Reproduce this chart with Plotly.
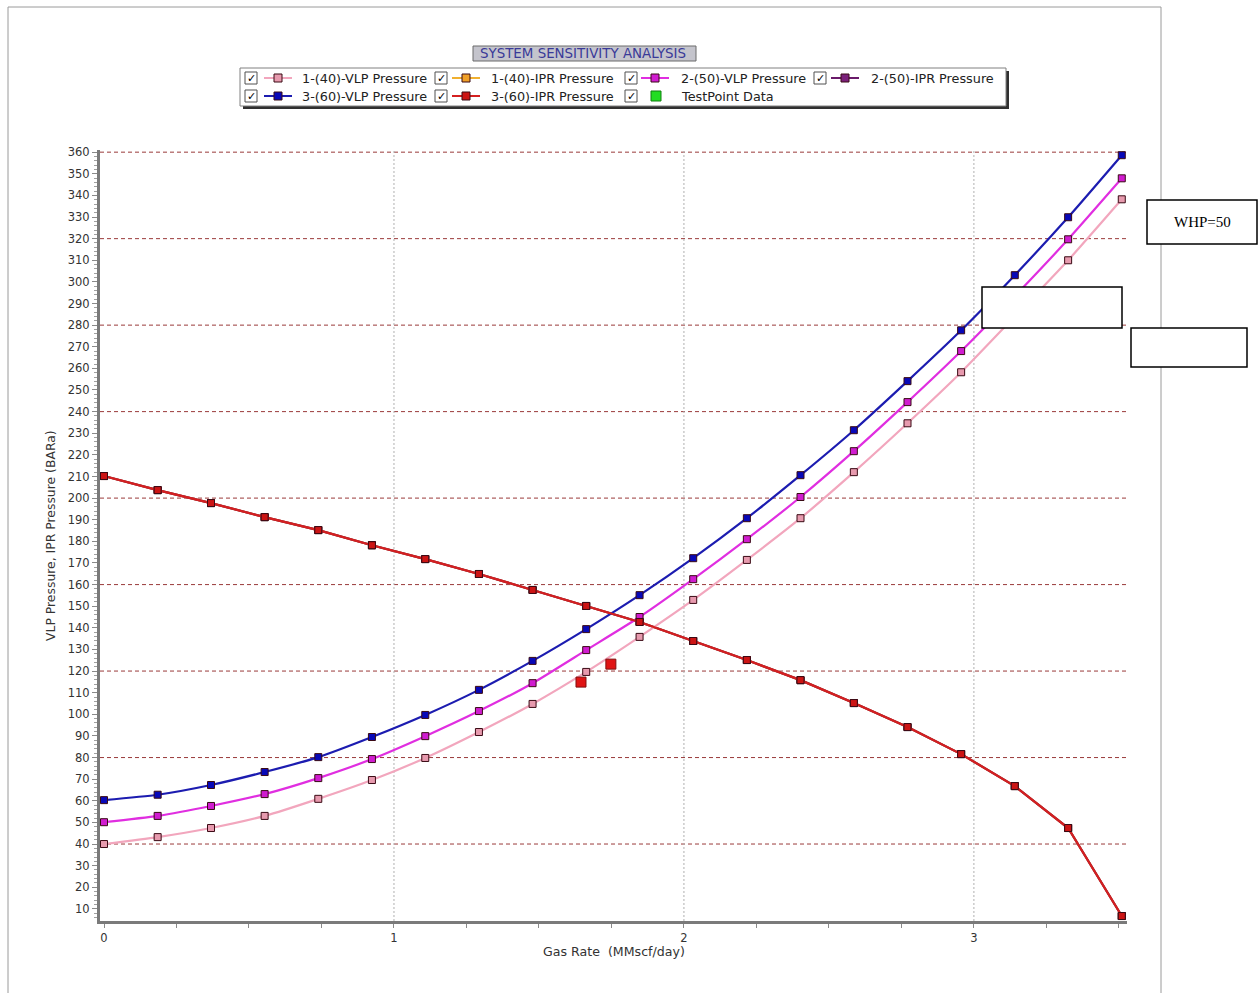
import plotly.graph_objects as go

# ---------------- data ----------------
gas_rate = [0.0, 0.185, 0.369, 0.554, 0.739, 0.924, 1.108, 1.293, 1.478, 1.663,
            1.847, 2.032, 2.217, 2.402, 2.586, 2.771, 2.956, 3.141, 3.325, 3.51]

vlp_40 = [40.0, 43.2, 47.4, 53.0, 60.9, 69.6, 79.8, 91.8, 104.8, 119.6,
          135.8, 152.9, 171.4, 190.7, 212.0, 234.6, 258.2, 284.0, 310.0, 338.2]
vlp_50 = [50.1, 53.0, 57.6, 63.1, 70.5, 79.3, 89.9, 101.5, 114.4, 129.7,
          145.0, 162.5, 181.0, 200.5, 221.7, 244.4, 268.0, 293.4, 319.7, 347.9]
vlp_60 = [60.3, 62.8, 67.3, 73.3, 80.2, 89.5, 99.7, 111.3, 124.7, 139.4,
          155.1, 172.2, 190.7, 210.6, 231.4, 254.1, 277.6, 303.1, 329.9, 358.6]
ipr = [210.2, 203.7, 197.7, 191.2, 185.2, 178.2, 171.8, 164.9, 157.5, 150.1,
       142.7, 133.9, 125.1, 115.8, 105.2, 94.1, 81.6, 66.8, 47.4, 6.7]

test_rate = [1.645, 1.748]
test_pressure = [114.9, 123.2]

x_ticks = [0, 1, 2, 3]
y_grid = [40, 80, 120, 160, 200, 240, 280, 320, 360]
x_grid = [1, 2, 3]

legend_names = ["1-(40)-VLP Pressure", "1-(40)-IPR Pressure", "2-(50)-VLP Pressure",
                "2-(50)-IPR Pressure", "3-(60)-VLP Pressure", "3-(60)-IPR Pressure",
                "TestPoint Data"]

# ---------------- styles ----------------
W, H = 1258, 993
L, R, T, B = 100, 1127, 150, 921
FONT = "DejaVu Sans"

C_PINK = ("#f2a6bd", "#e79aae")
C_ORANGE = ("#f0b030", "#f0a028")
C_MAG = ("#e02ee0", "#d01cd0")
C_PURPLE = ("#6a1a6a", "#7a207a")
C_BLUE = ("#1c1cb0", "#0808b8")
C_RED = ("#d42020", "#cc1414")
C_GREEN = ("#22cc22", "#22dd22")


def px(xp):
    return (xp - L) / (R - L)


def py(yp):
    return (B - yp) / (B - T)


fig = go.Figure()


def add_curve(y, colors, shape="spline"):
    fig.add_trace(go.Scatter(
        x=gas_rate, y=y, mode="lines+markers",
        line=dict(color=colors[0], width=2.2, shape=shape, smoothing=0.6),
        marker=dict(symbol="square", size=7, color=colors[1],
                    line=dict(color="#3a0a14", width=1)),
        showlegend=False, hoverinfo="x+y"))


add_curve(ipr, C_ORANGE, "linear")
add_curve(ipr, C_PURPLE, "linear")
add_curve(vlp_40, C_PINK)
add_curve(vlp_50, C_MAG)
add_curve(vlp_60, C_BLUE)
add_curve(ipr, C_RED, "linear")

fig.add_trace(go.Scatter(
    x=test_rate, y=test_pressure, mode="markers",
    marker=dict(symbol="square", size=10, color="#e01414",
                line=dict(color="#801010", width=1)),
    showlegend=False))

shapes = []
annotations = []

# grid lines
for g in y_grid:
    shapes.append(dict(type="line", xref="paper", yref="y", x0=0, x1=1, y0=g, y1=g,
                       line=dict(color="#9a3a3a", width=1, dash="4px,3px"), layer="below"))
for g in x_grid:
    shapes.append(dict(type="line", xref="x", yref="paper", x0=g, x1=g, y0=0, y1=1,
                       line=dict(color="#b0b0b0", width=1, dash="2px,2px"), layer="below"))

# outer frame
shapes.append(dict(type="rect", xref="paper", yref="paper",
                   x0=px(8), x1=px(1161), y0=py(7), y1=py(1010),
                   line=dict(color="#9a9a9a", width=1), layer="below"))

# title box
shapes.append(dict(type="rect", xref="paper", yref="paper",
                   x0=px(473), x1=px(696), y0=py(46), y1=py(61),
                   fillcolor="#c4c4cc", line=dict(color="#6a6a6a", width=1)))
annotations.append(dict(xref="paper", yref="paper", x=px(583), y=py(53.5),
                        text="SYSTEM SENSITIVITY ANALYSIS", showarrow=False,
                        font=dict(family=FONT, size=13.4, color="#3a3a98"),
                        xanchor="center", yanchor="middle"))

# legend box + shadow
shapes.append(dict(type="rect", xref="paper", yref="paper",
                   x0=px(243), x1=px(1009), y0=py(71), y1=py(109),
                   fillcolor="#303030", line=dict(width=0)))
shapes.append(dict(type="rect", xref="paper", yref="paper",
                   x0=px(240), x1=px(1006), y0=py(68), y1=py(106),
                   fillcolor="white", line=dict(color="#808080", width=1)))

legend_layout = [
    (251, 278, 300, 78, C_PINK, True),
    (441, 466, 489, 78, C_ORANGE, True),
    (631, 655, 679, 78, C_MAG, True),
    (820, 845, 869, 78, C_PURPLE, True),
    (251, 278, 300, 96, C_BLUE, True),
    (441, 466, 489, 96, C_RED, True),
    (631, 656, 679, 96, C_GREEN, False),
]
for name, (cb, sym, tx, cy, col, has_line) in zip(legend_names, legend_layout):
    shapes.append(dict(type="rect", xref="paper", yref="paper",
                       x0=px(cb - 6), x1=px(cb + 6), y0=py(cy - 6), y1=py(cy + 6),
                       fillcolor="white", line=dict(color="#505050", width=1)))
    annotations.append(dict(xref="paper", yref="paper", x=px(cb), y=py(cy),
                            text="<b>✓</b>", showarrow=False,
                            font=dict(family=FONT, size=11, color="black"),
                            xanchor="center", yanchor="middle"))
    if has_line:
        shapes.append(dict(type="line", xref="paper", yref="paper",
                           x0=px(sym - 14), x1=px(sym + 14), y0=py(cy), y1=py(cy),
                           line=dict(color=col[0], width=2)))
        shapes.append(dict(type="rect", xref="paper", yref="paper",
                           x0=px(sym - 4), x1=px(sym + 4), y0=py(cy - 4), y1=py(cy + 4),
                           fillcolor=col[1], line=dict(color="#3a0a14", width=1)))
    else:
        shapes.append(dict(type="rect", xref="paper", yref="paper",
                           x0=px(sym - 5), x1=px(sym + 5), y0=py(cy - 5), y1=py(cy + 5),
                           fillcolor=col[1], line=dict(color="#108010", width=1)))
    annotations.append(dict(xref="paper", yref="paper", x=px(tx), y=py(cy),
                            text=name, showarrow=False,
                            font=dict(family=FONT, size=12.8, color="#222222"),
                            xanchor="left", yanchor="middle"))

# axis titles
annotations.append(dict(xref="paper", yref="paper", x=px(50), y=py(536),
                        text="VLP Pressure, IPR Pressure (BARa)", showarrow=False,
                        textangle=-90, font=dict(family=FONT, size=12.4, color="#333333"),
                        xanchor="center", yanchor="middle"))
annotations.append(dict(xref="paper", yref="paper", x=px(614), y=py(951),
                        text="Gas Rate  (MMscf/day)", showarrow=False,
                        font=dict(family=FONT, size=12.6, color="#333333"),
                        xanchor="center", yanchor="middle"))

# overlay boxes on the right
shapes.append(dict(type="rect", xref="paper", yref="paper",
                   x0=px(1147), x1=px(1257), y0=py(200), y1=py(244),
                   fillcolor="white", line=dict(color="black", width=1.5), layer="above"))
annotations.append(dict(xref="paper", yref="paper", x=px(1202), y=py(222),
                        text="WHP=50", showarrow=False,
                        font=dict(family="Liberation Serif", size=15, color="black"),
                        xanchor="center", yanchor="middle"))
shapes.append(dict(type="rect", xref="paper", yref="paper",
                   x0=px(982), x1=px(1122), y0=py(287), y1=py(328),
                   fillcolor="white", line=dict(color="black", width=1.5), layer="above"))
shapes.append(dict(type="rect", xref="paper", yref="paper",
                   x0=px(1131), x1=px(1247), y0=py(328), y1=py(367),
                   fillcolor="white", line=dict(color="black", width=1.5), layer="above"))

fig.update_layout(
    width=W, height=H,
    margin=dict(l=L, r=W - R, t=T, b=H - B),
    paper_bgcolor="white", plot_bgcolor="white",
    showlegend=False,
    shapes=shapes, annotations=annotations,
    xaxis=dict(range=[-0.0138, 3.528], tickvals=x_ticks, ticktext=[str(v) for v in x_ticks],
               showgrid=False, zeroline=False, showline=True, linecolor="#7a7a7a",
               linewidth=3, ticks="outside", ticklen=4, tickcolor="#8a8a8a",
               minor=dict(dtick=0.25, tick0=0, ticks="outside", ticklen=4, tickcolor="#8a8a8a"),
               tickfont=dict(family=FONT, size=11.5, color="#333333")),
    yaxis=dict(range=[4.4, 361], dtick=10, tick0=0,
               showgrid=False, zeroline=False, showline=True, linecolor="#7a7a7a",
               linewidth=3, ticks="outside", ticklen=5, tickcolor="#8a8a8a",
               minor=dict(dtick=2, tick0=0, ticks="outside", ticklen=3, tickcolor="#a0a0a0"),
               tickfont=dict(family=FONT, size=11.5, color="#333333")),
)

fig.write_html("out.html", config={"displayModeBar": False},
               post_script="document.body.style.margin='0';")
